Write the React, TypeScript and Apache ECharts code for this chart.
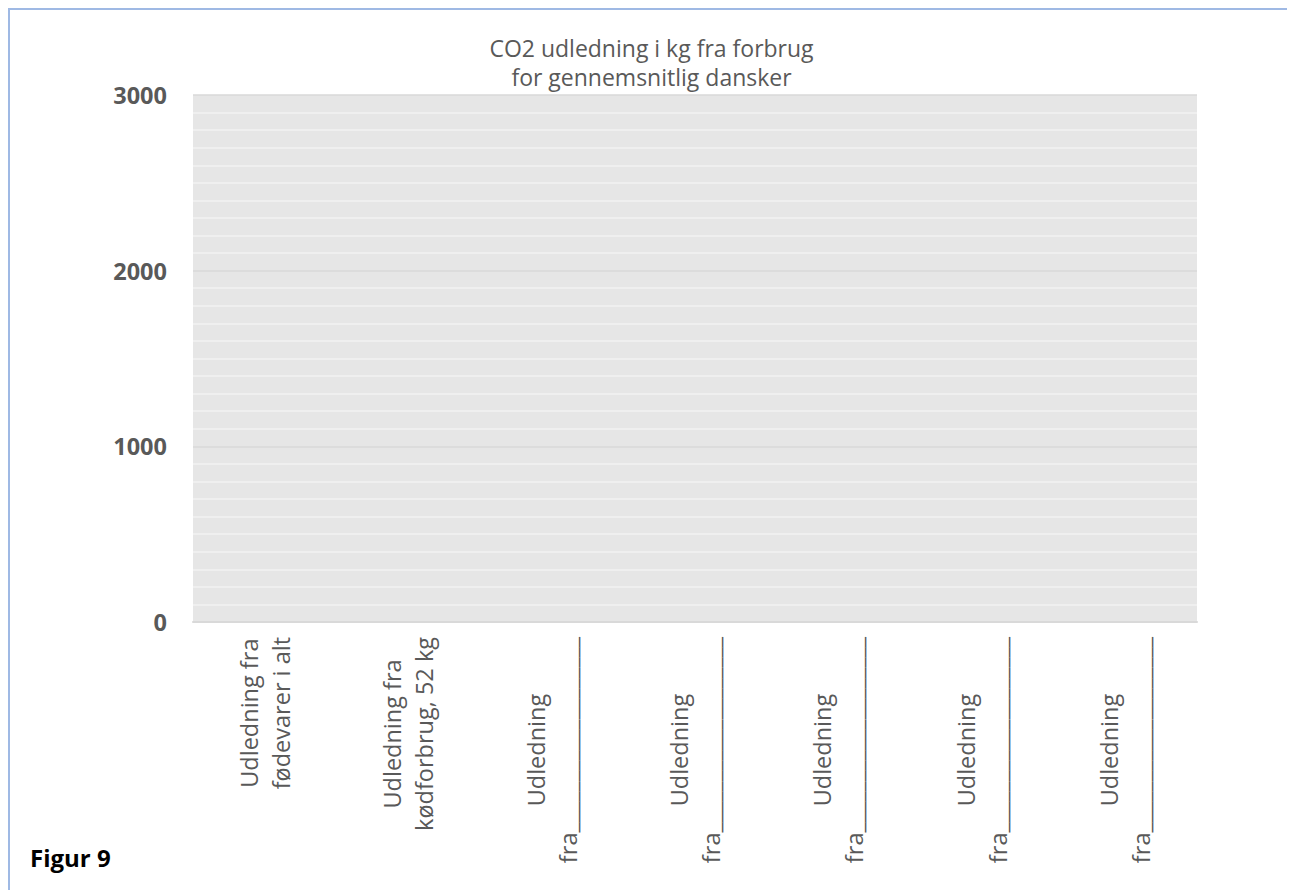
import React, { useEffect, useRef } from "react";
import * as echarts from "echarts";

const chartTitle = "CO2 udledning i kg fra forbrug\nfor gennemsnitlig dansker";
const blank = "fra___________________";
const categoryLines: string[][] = [
  ["Udledning fra", "fødevarer i alt"],
  ["Udledning fra", "kødforbrug, 52 kg"],
  ["Udledning", blank],
  ["Udledning", blank],
  ["Udledning", blank],
  ["Udledning", blank],
  ["Udledning", blank],
];
const categories = categoryLines.map((l) => l.join("\n"));
const values: (number | null)[] = [null, null, null, null, null, null, null];
const yMin = 0;
const yMax = 3000;
const yInterval = 1000;
const figureLabel = "Figur 9";

const FONT = "'Open Sans', 'Noto Sans', sans-serif";
const TXT = "#595959";

export default function App() {
  const ref = useRef<HTMLDivElement>(null);
  useEffect(() => {
    if (!ref.current) return;
    const chart = echarts.init(ref.current, undefined, { renderer: "svg" });
    chart.setOption({
      animation: false,
      title: {
        text: chartTitle,
        left: "center",
        top: 25,
        padding: 0,
        textStyle: {
          fontFamily: FONT,
          fontSize: 23,
          fontWeight: "normal",
          color: TXT,
          lineHeight: 29,
        },
      },
      grid: {
        left: 185,
        right: 98,
        top: 87,
        bottom: 268,
        show: true,
        backgroundColor: "#e6e6e6",
        borderWidth: 0,
      },
      xAxis: {
        type: "category",
        data: categories,
        axisLine: { show: true, lineStyle: { color: "#d9d9d9", width: 2 } },
        axisTick: { show: false },
        axisLabel: {
          interval: 0,
          rotate: 90,
          margin: 15,
          formatter: (v: string) =>
            v
              .split("\n")
              .map((s) => `{c|${s}}`)
              .join("\n"),
          rich: {
            c: {
              align: "center",
              fontFamily: FONT,
              fontSize: 23.5,
              lineHeight: 32,
              color: TXT,
            },
          },
        },
      },
      yAxis: {
        type: "value",
        min: yMin,
        max: yMax,
        interval: yInterval,
        axisLine: { show: false },
        axisTick: { show: false },
        axisLabel: {
          margin: 26,
          fontFamily: FONT,
          fontSize: 23.5,
          fontWeight: "bold",
          color: TXT,
          formatter: (v: number) => String(v),
        },
        splitLine: { show: true, lineStyle: { color: "#d9d9d9", width: 1.5 } },
        minorTick: { show: false, splitNumber: 10 },
        minorSplitLine: { show: true, lineStyle: { color: "#f2f2f2", width: 1.5 } },
      },
      series: [
        {
          type: "bar",
          data: values,
          itemStyle: { color: "#4472c4" },
        },
      ],
      graphic: [
        {
          type: "rect",
          shape: { x: 1, y: 1, width: 1285, height: 1000 },
          style: { fill: "none", stroke: "#9fb9e4", lineWidth: 2 },
          silent: true,
        },
        {
          type: "text",
          left: 22,
          top: 837,
          style: {
            text: figureLabel,
            fontFamily: FONT,
            fontSize: 24,
            fontWeight: "bold",
            fill: "#000000",
          },
        },
      ],
    });
    return () => chart.dispose();
  }, []);
  return <div ref={ref} style={{ width: 1287, height: 882 }} />;
}
